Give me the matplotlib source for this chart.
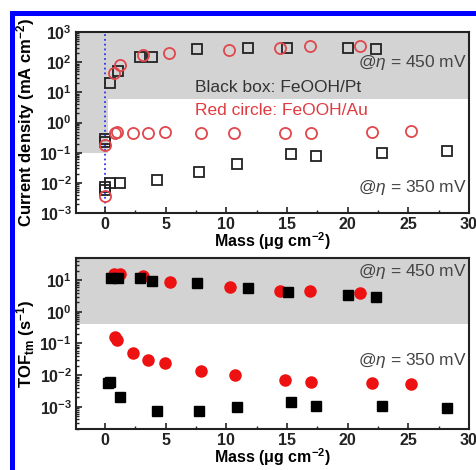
import matplotlib
matplotlib.use("Agg")
import matplotlib.pyplot as plt
from matplotlib.patches import Rectangle
from matplotlib.ticker import FixedLocator, FuncFormatter, LogLocator, NullFormatter, MultipleLocator

plt.rcParams['font.family'] = ['Liberation Sans', 'DejaVu Sans']
plt.rcParams['mathtext.fontset'] = 'custom'
plt.rcParams['mathtext.rm'] = 'Liberation Sans'
plt.rcParams['mathtext.bf'] = 'Liberation Sans:bold'
plt.rcParams['mathtext.it'] = 'Liberation Sans:italic'

# ---------------- data ----------------
# Top panel: current density (mA cm^-2)
pt_mass_450 = [0.4, 1.1, 2.9, 3.9, 7.6, 11.8, 15.0, 20.0, 22.3]
pt_j_450 = [20, 51, 148, 150, 275, 290, 290, 290, 275]
au_mass_450 = [0.7, 1.25, 3.1, 5.25, 10.2, 14.4, 16.9, 21.0]
au_j_450 = [44, 80, 173, 205, 250, 290, 345, 345]
au_mass_350 = [0.8, 1.0, 2.3, 3.5, 4.9, 7.9, 10.6, 14.8, 17.0, 22.0, 25.2]
au_j_350 = [0.45, 0.5, 0.45, 0.45, 0.5, 0.45, 0.45, 0.45, 0.45, 0.5, 0.52]
pt_mass_350 = [0.4, 1.2, 4.25, 7.7, 10.9, 15.3, 17.4, 22.8, 28.2]
pt_j_350 = [0.01, 0.01, 0.0126, 0.023, 0.043, 0.09, 0.08, 0.1, 0.11]
# bare substrates (mass = 0)
sub_pt_mass = [0, 0, 0, 0]
sub_pt_j = [0.28, 0.22, 0.0075, 0.006]
sub_au_mass = [0, 0]
sub_au_j = [0.18, 0.0038]

# Bottom panel: TOF_tm (s^-1)
pt_tmass_450 = [0.5, 1.1, 2.9, 3.9, 7.6, 11.8, 15.1, 20.0, 22.3]
pt_tof_450 = [11.5, 11.5, 11.5, 9.3, 8.0, 5.6, 4.2, 3.4, 2.9]
au_tmass_450 = [0.7, 1.2, 3.1, 5.35, 10.3, 14.4, 16.9, 21.0]
au_tof_450 = [15.5, 15.5, 13.4, 8.7, 6.0, 4.5, 4.5, 3.9]
au_tmass_350 = [0.8, 1.0, 2.3, 3.5, 4.9, 7.9, 10.7, 14.8, 17.0, 22.0, 25.2]
au_tof_350 = [0.16, 0.13, 0.05, 0.03, 0.024, 0.0135, 0.01, 0.007, 0.006, 0.0056, 0.0052]
pt_tmass_350 = [0.25, 0.4, 1.2, 4.3, 7.7, 10.9, 15.3, 17.4, 22.8, 28.2]
pt_tof_350 = [0.0056, 0.0062, 0.002, 0.00074, 0.00074, 0.001, 0.0014, 0.00107, 0.00107, 0.0009]

x_ticks = [0, 5, 10, 15, 20, 25, 30]
top_yticks = [1e-3, 1e-2, 1e-1, 1e0, 1e1, 1e2, 1e3]
bot_yticks = [1e-3, 1e-2, 1e-1, 1e0, 1e1]

# ---------------- figure ----------------
fig = plt.figure(figsize=(4.77, 4.70), dpi=100)
fig.patches.append(Rectangle((12.5 / 477, -0.1), 1.2, 1.1 - 12.5 / 470, transform=fig.transFigure,
                             fill=False, edgecolor='#0000ff', linewidth=3.6, zorder=0))

ax1 = fig.add_axes([76 / 477, 1 - 213 / 470, 393 / 477, 181 / 470])
ax2 = fig.add_axes([76 / 477, 1 - 429 / 470, 393 / 477, 171 / 470])

gray = '#d3d3d3'
spine_c = '#222222'
red_open = '#e0474c'
red_fill = '#ee1111'

def fmt_pow(v, pos):
    import math
    e = int(round(math.log10(v)))
    return r'$\mathbf{10^{%d}}$' % e

for ax in (ax1, ax2):
    ax.set_yscale('log')
    ax.set_xlim(-2.4, 30)
    ax.xaxis.set_major_locator(FixedLocator(x_ticks))
    ax.xaxis.set_minor_locator(MultipleLocator(2.5))
    ax.tick_params(which='both', direction='in', top=False, right=False)
    ax.tick_params(which='major', length=4, width=1.2, labelsize=11.5, colors=spine_c, pad=3)
    ax.tick_params(which='minor', length=2.5, width=1.0, colors=spine_c)
    for lab in ax.get_xticklabels():
        lab.set_fontweight('bold')
    for s in ax.spines.values():
        s.set_linewidth(1.5)
        s.set_color(spine_c)
    ax.yaxis.set_major_formatter(FuncFormatter(fmt_pow))
    ax.yaxis.set_minor_locator(LogLocator(base=10, subs=range(2, 10), numticks=20))
    ax.yaxis.set_minor_formatter(NullFormatter())
    ax.set_xlabel(r'Mass ($\mathbf{\mu}$g cm$^{\mathbf{-2}}$)', fontsize=11.5, fontweight='bold', labelpad=-1)

# ---- top panel ----
ax1.set_ylim(1e-3, 1e3)
ax1.yaxis.set_major_locator(FixedLocator(top_yticks))
ax1.axhspan(6, 1e3, color=gray, lw=0, zorder=0)
ax1.fill_between([-2.4, 0.25], 0.1, 6, color=gray, lw=0, zorder=0)
ax1.axvline(0, color='#3333ee', ls=':', lw=1.3, zorder=1)

sq = dict(marker='s', ms=7, mfc='none', mec='#222222', mew=1.3, ls='none', zorder=3)
ci = dict(marker='o', ms=8, mfc='none', mec=red_open, mew=1.3, ls='none', zorder=3)
ax1.plot(pt_mass_450, pt_j_450, **sq)
ax1.plot(pt_mass_350, pt_j_350, **sq)
ax1.plot(sub_pt_mass, sub_pt_j, **sq)
ax1.plot(au_mass_450, au_j_450, **ci)
ax1.plot(au_mass_350, au_j_350, **ci)
ax1.plot(sub_au_mass, sub_au_j, **ci)

ax1.set_ylabel(r'Current density (mA cm$^{\mathbf{-2}}$)', fontsize=12, fontweight='bold', labelpad=2)
ax1.text(0.995, 0.83, r'@$\eta$ = 450 mV', transform=ax1.transAxes, ha='right', va='center',
         fontsize=12.5, color='#444444')
ax1.text(0.995, 0.14, r'@$\eta$ = 350 mV', transform=ax1.transAxes, ha='right', va='center',
         fontsize=12.5, color='#444444')
ax1.text(0.303, 0.696, 'Black box: FeOOH/Pt', transform=ax1.transAxes, ha='left', va='center',
         fontsize=12.5, color='#333333')
ax1.text(0.303, 0.569, 'Red circle: FeOOH/Au', transform=ax1.transAxes, ha='left', va='center',
         fontsize=12.5, color='#e03a40')

# ---- bottom panel ----
ax2.set_ylim(2e-4, 50)
ax2.yaxis.set_major_locator(FixedLocator(bot_yticks))
ax2.axhspan(0.42, 50, color=gray, lw=0, zorder=0)

fsq = dict(marker='s', ms=7, mfc='black', mec='black', ls='none', zorder=3)
fci = dict(marker='o', ms=8, mfc=red_fill, mec=red_fill, ls='none', zorder=3)
ax2.plot(au_tmass_450, au_tof_450, **fci)
ax2.plot(au_tmass_350, au_tof_350, **fci)
ax2.plot(pt_tmass_450, pt_tof_450, **fsq)
ax2.plot(pt_tmass_350, pt_tof_350, **fsq)

ax2.set_ylabel(r'TOF$_{\mathbf{tm}}$ (s$^{\mathbf{-1}}$)', fontsize=12, fontweight='bold', labelpad=2)
ax2.text(0.995, 0.92, r'@$\eta$ = 450 mV', transform=ax2.transAxes, ha='right', va='center',
         fontsize=12.5, color='#444444')
ax2.text(0.995, 0.40, r'@$\eta$ = 350 mV', transform=ax2.transAxes, ha='right', va='center',
         fontsize=12.5, color='#444444')

fig.savefig('out.png', dpi=100)
